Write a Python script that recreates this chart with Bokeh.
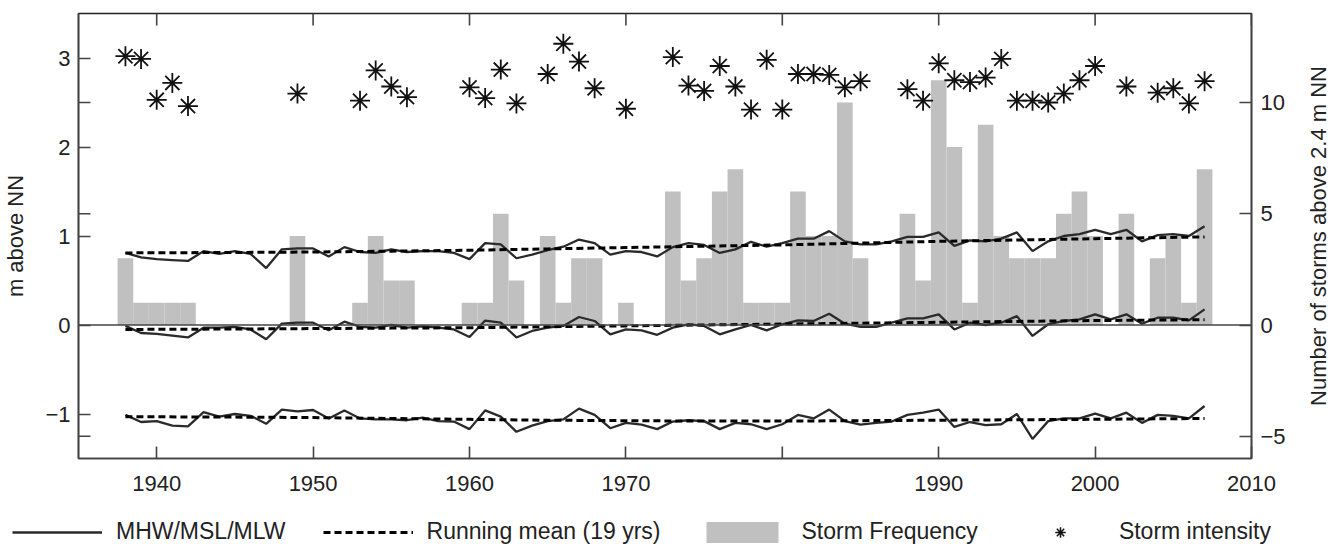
from math import pi
from bokeh.plotting import figure
from bokeh.layouts import row
from bokeh.models import (Range1d, LinearAxis, FixedTicker, Span, Legend,
                          LegendItem, Label)
from bokeh.embed import file_html
from bokeh.resources import INLINE

FONT = "Liberation Sans"

# ---------------- data ----------------
years = list(range(1938, 2008))

mhw = [0.81, 0.76, 0.74, 0.73, 0.72, 0.83, 0.80, 0.83, 0.80, 0.64,
       0.85, 0.86, 0.86, 0.77, 0.875, 0.82, 0.81, 0.85, 0.82, 0.83,
       0.83, 0.81, 0.74, 0.92, 0.905, 0.75, 0.79, 0.84, 0.88, 0.96,
       0.92, 0.79, 0.83, 0.82, 0.77, 0.875, 0.92, 0.90, 0.81, 0.85,
       0.935, 0.88, 0.92, 0.97, 0.97, 1.055, 0.94, 0.905, 0.905, 0.94,
       0.99, 0.99, 1.04, 0.89, 0.95, 0.94, 0.97, 1.04, 0.83, 0.94,
       1.00, 1.02, 1.07, 1.02, 1.07, 0.94, 1.01, 1.02, 1.00, 1.11]

msl = [-0.01, -0.09, -0.10, -0.12, -0.14, -0.03, -0.03, -0.02, -0.05, -0.16,
       0.015, 0.026, 0.026, -0.06, 0.037, -0.02, -0.03, 0.0, -0.03, -0.015,
       -0.03, -0.05, -0.135, 0.05, 0.026, -0.14, -0.067, -0.03, -0.011, 0.09,
       0.045, -0.105, -0.05, -0.06, -0.11, -0.03, 0.008, -0.011, -0.105, -0.05,
       0.0, -0.06, 0.008, 0.052, 0.045, 0.127, 0.015, -0.022, -0.022, 0.026,
       0.075, 0.075, 0.12, -0.05, 0.026, 0.0, 0.026, 0.10, -0.123, 0.008,
       0.045, 0.064, 0.12, 0.064, 0.12, 0.015, 0.082, 0.082, 0.052, 0.176]

mlw = [-1.01, -1.09, -1.08, -1.13, -1.14, -0.98, -1.03, -1.00, -1.02, -1.11,
       -0.95, -0.97, -0.955, -1.05, -0.96, -1.05, -1.06, -1.06, -1.07, -1.04,
       -1.08, -1.085, -1.17, -0.96, -1.03, -1.20, -1.13, -1.08, -1.06, -0.94,
       -1.01, -1.16, -1.10, -1.12, -1.17, -1.085, -1.07, -1.08, -1.17, -1.10,
       -1.115, -1.17, -1.115, -1.01, -1.05, -0.95, -1.08, -1.12, -1.10, -1.085,
       -1.01, -0.985, -0.95, -1.145, -1.09, -1.125, -1.115, -1.00, -1.28, -1.08,
       -1.05, -1.05, -0.995, -1.05, -0.985, -1.10, -1.01, -1.02, -1.05, -0.91]

mean_years = [1938, 1945, 1950, 1955, 1960, 1965, 1970, 1975, 1980, 1985,
              1990, 1995, 2000, 2007]
mhw_mean = [0.81, 0.815, 0.82, 0.83, 0.84, 0.855, 0.87, 0.885, 0.90, 0.92,
            0.94, 0.955, 0.97, 0.99]
msl_mean = [-0.05, -0.045, -0.04, -0.035, -0.03, -0.02, -0.01, 0.0, 0.01, 0.02,
            0.03, 0.04, 0.05, 0.06]
mlw_mean = [-1.03, -1.035, -1.04, -1.05, -1.06, -1.07, -1.075, -1.08, -1.08, -1.075,
            -1.07, -1.065, -1.06, -1.05]

storm_freq = [3, 1, 1, 1, 1, 0, 0, 0, 0, 0,
              0, 4, 0, 0, 0, 1, 4, 2, 2, 0,
              0, 0, 1, 1, 5, 2, 0, 4, 1, 3,
              3, 0, 1, 0, 0, 6, 2, 3, 6, 7,
              1, 1, 1, 6, 4, 4, 10, 3, 0, 0,
              5, 2, 11, 8, 1, 9, 4, 3, 3, 3,
              5, 6, 4, 0, 5, 0, 3, 4, 1, 7]

storm_years = [1938, 1939, 1940, 1941, 1942, 1949, 1953, 1954, 1955, 1956,
               1960, 1961, 1962, 1963, 1965, 1966, 1967, 1968, 1970, 1973,
               1974, 1975, 1976, 1977, 1978, 1979, 1980, 1981, 1982, 1983,
               1984, 1985, 1988, 1989, 1990, 1991, 1992, 1993, 1994, 1995,
               1996, 1997, 1998, 1999, 2000, 2002, 2004, 2005, 2006, 2007]
storm_intensity = [3.02, 2.99, 2.53, 2.72, 2.46, 2.60, 2.52, 2.86, 2.68, 2.56,
                   2.67, 2.55, 2.87, 2.49, 2.82, 3.16, 2.96, 2.66, 2.43, 3.01,
                   2.69, 2.63, 2.91, 2.68, 2.42, 2.98, 2.42, 2.82, 2.82, 2.81,
                   2.67, 2.74, 2.65, 2.52, 2.94, 2.75, 2.73, 2.78, 2.99, 2.52,
                   2.52, 2.50, 2.60, 2.75, 2.91, 2.68, 2.61, 2.66, 2.49, 2.74]

x_ticks = [1940, 1950, 1960, 1970, 1980, 1990, 2000, 2010]
x_tick_labels = ["1940", "1950", "1960", "1970", "", "1990", "2000", "2010"]
left_ticks = [-1, 0, 1, 2, 3]
right_ticks = [-5, 0, 5, 10]

X0, X1 = 1935, 2010
Y0, Y1 = -1.5, 3.5
S0, S1 = -6, 14
TICK_PX = 12
FRAME_W, FRAME_H = 1179, 445
SIDE_W = 50


def blank(fig):
    fig.xgrid.visible = False
    fig.ygrid.visible = False
    fig.outline_line_color = None
    fig.background_fill_color = "white"
    fig.border_fill_color = "white"


# ---------------- main figure ----------------
p = figure(width=1338 - SIDE_W, height=500,
           x_range=Range1d(X0, X1), y_range=Range1d(Y0, Y1),
           output_backend="svg", toolbar_location=None,
           x_axis_location=None, y_axis_location=None,
           min_border_left=77, min_border_right=1338 - SIDE_W - 1256,
           min_border_top=13, min_border_bottom=42)
p.extra_y_ranges = {"storms": Range1d(S0, S1)}
blank(p)
p.outline_line_color = "#222"
p.outline_line_width = 1.6


def style_axis(ax):
    ax.major_tick_in = TICK_PX
    ax.major_tick_out = 0
    ax.minor_tick_line_color = None
    ax.axis_line_color = "#444"
    ax.axis_line_width = 1.6
    ax.major_tick_line_color = "#444"
    ax.major_tick_line_width = 1.6
    ax.major_label_text_font = FONT
    ax.major_label_text_font_size = "22px"
    ax.major_label_text_color = "#222"


labelled_x = [t for t, s in zip(x_ticks, x_tick_labels) if s]
bottom = LinearAxis(ticker=FixedTicker(ticks=labelled_x))
style_axis(bottom)
bottom.major_label_standoff = 17
p.add_layout(bottom, "below")

left = LinearAxis(ticker=FixedTicker(ticks=left_ticks), axis_label="m above NN")
style_axis(left)
left.major_label_standoff = 8
left.axis_label_text_font = FONT
left.axis_label_text_font_size = "22px"
left.axis_label_text_font_style = "normal"
left.axis_label_text_color = "#222"
left.axis_label_standoff = 14
p.add_layout(left, "left")

right = LinearAxis(y_range_name="storms", ticker=FixedTicker(ticks=right_ticks))
style_axis(right)
right.major_label_standoff = 9
p.add_layout(right, "right")

# tick marks without labels (top edge, the unlabelled 1980 tick, storm ticks on left)
dy = TICK_PX * (Y1 - Y0) / FRAME_H
dx = TICK_PX * (X1 - X0) / FRAME_W
p.segment(x0=x_ticks, y0=[Y1] * len(x_ticks), x1=x_ticks,
          y1=[Y1 - dy] * len(x_ticks), line_color="#444", line_width=1.6)
unl = [t for t, s in zip(x_ticks, x_tick_labels) if not s]
p.segment(x0=unl, y0=[Y0] * len(unl), x1=unl, y1=[Y0 + dy] * len(unl),
          line_color="#444", line_width=1.6)
st = [t for t in right_ticks if t != 0]
p.segment(x0=[X0] * len(st), y0=st, x1=[X0 + dx] * len(st), y1=st,
          y_range_name="storms", line_color="#444", line_width=1.6)

# ---------------- glyphs ----------------
p.vbar(x=years, top=storm_freq, bottom=0, width=1.0, y_range_name="storms",
       fill_color="#c0c0c0", line_color=None)

p.add_layout(Span(location=0, dimension="width", line_color="#444", line_width=1.6))

for s in (mhw, msl, mlw):
    p.line(years, s, line_color="#2a2a2a", line_width=2.3)
for s in (mhw_mean, msl_mean, mlw_mean):
    p.line(mean_years, s, line_color="black", line_width=3, line_dash="7 4")

p.scatter(storm_years, storm_intensity, marker="asterisk", size=20,
          line_color="#111", line_width=1.8)

# ---------------- right-hand axis title strip ----------------
side = figure(width=SIDE_W, height=500, x_range=Range1d(0, 1),
              y_range=Range1d(Y0, Y1), output_backend="svg",
              toolbar_location=None, x_axis_location=None, y_axis_location=None,
              min_border_left=0, min_border_right=0,
              min_border_top=13, min_border_bottom=42)
blank(side)
side.add_layout(Label(x=0.6, y=(Y0 + Y1) / 2,
                      text="Number of storms above 2.4 m NN", angle=pi / 2,
                      text_align="center", text_baseline="middle",
                      text_font=FONT, text_font_size="22px", text_color="#222"))

# ---------------- legend strip ----------------
lg = figure(width=1338, height=46, x_range=Range1d(0, 1), y_range=Range1d(0, 1),
            output_backend="svg", toolbar_location=None,
            x_axis_location=None, y_axis_location=None,
            min_border_left=0, min_border_right=0, min_border_top=0,
            min_border_bottom=0)
blank(lg)
# legend sample renderers (their data sits outside the visible range)
l1 = lg.line(x=[-3, -2], y=[-3, -3], line_color="#2a2a2a", line_width=2.3)
l2 = lg.line(x=[-3, -2], y=[-3, -3], line_color="black", line_width=3, line_dash="7 4")
l3 = lg.vbar(x=[-3], top=[-2], bottom=[-3], width=1, fill_color="#c0c0c0", line_color=None)
l4 = lg.scatter(x=[-3], y=[-3], marker="asterisk", size=16, line_color="#111",
                line_width=1.5)

legend = Legend(items=[LegendItem(label="MHW/MSL/MLW", renderers=[l1]),
                       LegendItem(label="Running mean (19 yrs)", renderers=[l2]),
                       LegendItem(label="Storm Frequency", renderers=[l3]),
                       LegendItem(label="Storm intensity", renderers=[l4])],
                orientation="horizontal", location=(12, 1),
                glyph_width=90, glyph_height=26, label_standoff=14, spacing=37,
                padding=0, margin=0, label_text_font=FONT,
                label_text_font_size="23px", label_text_color="#222",
                background_fill_alpha=0, border_line_color=None)
lg.add_layout(legend)

open("out.html", "w").write(file_html([row(p, side, spacing=0), lg], INLINE))
